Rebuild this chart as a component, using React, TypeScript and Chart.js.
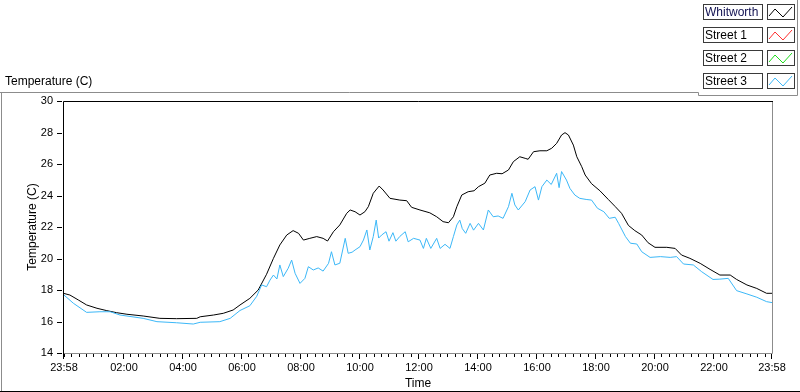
import React, { useEffect, useRef } from 'react';
import { Chart, registerables } from 'chart.js';

Chart.register(...registerables);

const chartTitle = 'Temperature (C)';
const yAxisTitle = 'Temperature (C)';
const xAxisTitle = 'Time';

const seriesNames = ['Whitworth', 'Street 1', 'Street 2', 'Street 3'];
const seriesColors = ['#000000', '#ff3030', '#1edc1e', '#3cb8f8'];
const legendTextColors = ['#101050', '#000000', '#000000', '#000000'];

// minutes since 23:58
const whitworthMinutes = [0, 12, 29, 46, 67, 87, 107, 128, 161, 195, 229, 270, 277, 304, 324, 344, 358, 378, 395, 412, 426, 439, 453, 466, 477, 487, 500, 514, 527, 536, 548, 561, 575, 582, 592, 602, 612, 619, 629, 641, 649, 663, 683, 697, 707, 724, 744, 758, 771, 782, 792, 799, 809, 822, 834, 843, 856, 866, 880, 891, 904, 914, 927, 938, 944, 955, 968, 982, 992, 1002, 1012, 1019, 1026, 1036, 1043, 1053, 1060, 1073, 1090, 1107, 1121, 1134, 1148, 1161, 1175, 1188, 1202, 1226, 1243, 1256, 1273, 1294, 1314, 1334, 1355, 1368, 1389, 1409, 1429, 1440];
const whitworthTemps = [17.78, 17.68, 17.37, 17.05, 16.84, 16.69, 16.56, 16.46, 16.35, 16.2, 16.18, 16.2, 16.3, 16.41, 16.52, 16.73, 17.05, 17.47, 18.0, 19.0, 20.01, 20.86, 21.49, 21.77, 21.6, 21.17, 21.28, 21.39, 21.28, 21.11, 21.7, 22.13, 22.87, 23.08, 22.97, 22.76, 22.97, 23.29, 24.14, 24.6, 24.35, 23.82, 23.71, 23.67, 23.25, 23.08, 22.9, 22.65, 22.34, 22.27, 22.65, 23.29, 24.03, 24.24, 24.3, 24.56, 24.78, 25.3, 25.41, 25.38, 25.62, 26.15, 26.46, 26.36, 26.3, 26.78, 26.84, 26.84, 27.0, 27.31, 27.84, 27.99, 27.84, 27.2, 26.46, 25.83, 25.3, 24.75, 24.3, 23.75, 23.3, 22.87, 22.1, 21.77, 21.49, 21.0, 20.71, 20.71, 20.64, 20.22, 20.01, 19.69, 19.31, 18.95, 18.95, 18.67, 18.32, 18.1, 17.79, 17.79];

const street1Minutes: number[] = [];
const street1Temps: number[] = [];
const street2Minutes: number[] = [];
const street2Temps: number[] = [];

const street3Minutes = [0, 19, 46, 73, 94, 114, 161, 189, 229, 263, 277, 317, 338, 358, 378, 392, 402, 412, 419, 426, 433, 439, 446, 456, 463, 470, 480, 490, 497, 507, 517, 527, 538, 544, 551, 561, 572, 578, 586, 592, 602, 609, 616, 622, 629, 635, 640, 646, 655, 661, 669, 675, 683, 694, 700, 711, 724, 731, 737, 746, 758, 765, 775, 785, 792, 799, 805, 810, 817, 826, 833, 843, 853, 863, 873, 883, 893, 904, 911, 917, 924, 938, 948, 958, 965, 972, 982, 991, 1002, 1007, 1012, 1022, 1029, 1039, 1049, 1062, 1073, 1085, 1098, 1109, 1121, 1128, 1142, 1152, 1165, 1175, 1192, 1213, 1233, 1246, 1260, 1280, 1297, 1320, 1334, 1351, 1368, 1389, 1409, 1429, 1440];
const street3Temps = [17.68, 17.16, 16.58, 16.62, 16.62, 16.41, 16.2, 15.99, 15.92, 15.84, 15.95, 15.99, 16.2, 16.7, 17.0, 17.6, 18.32, 18.21, 18.63, 18.95, 18.7, 19.59, 18.85, 19.38, 19.9, 19.06, 18.42, 18.74, 19.48, 19.27, 19.4, 19.2, 19.69, 20.43, 19.59, 19.7, 21.28, 20.33, 20.4, 20.54, 20.75, 21.17, 21.81, 20.54, 21.39, 22.44, 21.3, 21.49, 21.7, 21.1, 21.64, 21.1, 21.4, 21.7, 21.06, 21.28, 21.17, 20.64, 21.28, 20.64, 21.28, 20.64, 20.9, 20.64, 21.39, 22.13, 22.44, 21.9, 21.6, 22.23, 21.8, 22.23, 21.81, 23.08, 22.65, 22.7, 22.55, 23.29, 24.14, 23.4, 23.08, 23.61, 24.35, 24.56, 23.71, 24.56, 24.98, 24.7, 25.41, 24.5, 25.52, 24.98, 24.45, 24.03, 23.82, 23.75, 23.71, 23.19, 22.97, 22.55, 22.62, 22.23, 21.39, 20.97, 20.92, 20.43, 20.07, 20.12, 20.07, 20.12, 19.65, 19.59, 19.16, 18.67, 18.69, 18.74, 17.96, 17.75, 17.54, 17.26, 17.2];

const tickMinutes = [0, 122, 242, 362, 482, 602, 722, 842, 962, 1082, 1202, 1322, 1440];
const tickLabels = ['23:58', '02:00', '04:00', '06:00', '08:00', '10:00', '12:00', '14:00', '16:00', '18:00', '20:00', '22:00', '23:58'];
const minorTickStart = 2; // 00:00
const minorTickStep = 15;
const xMin = 0;
const xMax = 1440;
const yMin = 14;
const yMax = 30;
const yStep = 2;

const FONT = '"Liberation Sans", Arial, sans-serif';

const toPoints = (xs: number[], ys: number[]) => xs.map((x, i) => ({ x, y: ys[i] }));

const framePlugin = {
  id: 'lvFrame',
  beforeDraw(chart: any) {
    const ctx = chart.ctx as CanvasRenderingContext2D;
    const { width, height } = chart;
    ctx.save();
    ctx.fillStyle = '#ffffff';
    ctx.fillRect(0, 0, width, height);
    ctx.lineWidth = 1;
    ctx.strokeStyle = '#8c8c8c';
    ctx.beginPath();
    ctx.moveTo(0, 92.5);
    ctx.lineTo(698.5, 92.5);
    ctx.lineTo(698.5, 95.5);
    ctx.lineTo(797.5, 95.5);
    ctx.lineTo(797.5, 0);
    ctx.moveTo(1.5, 92.5);
    ctx.lineTo(1.5, 391);
    ctx.stroke();
    ctx.strokeStyle = '#000000';
    ctx.beginPath();
    ctx.moveTo(0, 391.5);
    ctx.lineTo(width, 391.5);
    ctx.stroke();
    ctx.fillStyle = '#000000';
    ctx.font = '12px ' + FONT;
    ctx.textAlign = 'left';
    ctx.textBaseline = 'middle';
    ctx.fillText(chartTitle, 5, 82);
    ctx.restore();
  },
  afterDatasetsDraw(chart: any) {
    const ctx = chart.ctx as CanvasRenderingContext2D;
    const { left, top, right, bottom } = chart.chartArea;
    const xs = chart.scales.x;
    const ys = chart.scales.y;
    ctx.save();
    ctx.lineWidth = 1;
    // plot frame
    ctx.strokeStyle = '#8c8c8c';
    ctx.beginPath();
    ctx.moveTo(left, bottom + 0.5);
    ctx.lineTo(right + 0.5, bottom + 0.5);
    ctx.lineTo(right + 0.5, top);
    ctx.stroke();
    ctx.strokeStyle = '#000000';
    ctx.beginPath();
    ctx.moveTo(left - 0.5, bottom + 1);
    ctx.lineTo(left - 0.5, top + 0.5);
    ctx.lineTo(right + 1, top + 0.5);
    ctx.stroke();
    // ticks
    ctx.fillStyle = '#000000';
    for (let v = yMin; v <= yMax; v += yStep) {
      const py = Math.round(ys.getPixelForValue(v));
      ctx.fillRect(left - 7, py, 5, 1);
    }
    for (let m = minorTickStart; m <= xMax; m += minorTickStep) {
      const px = Math.round(xs.getPixelForValue(m));
      ctx.fillRect(px - 1, bottom + 1, 1, 3);
    }
    tickMinutes.forEach((m) => {
      const px = Math.round(xs.getPixelForValue(m));
      ctx.fillRect(px - 1, bottom + 1, 1, 5);
    });
    // legend
    seriesNames.forEach((name, i) => {
      const t = 4 + i * 23;
      ctx.fillStyle = '#ffffff';
      ctx.fillRect(703, t, 60, 16);
      ctx.fillRect(767, t, 28, 16);
      ctx.strokeStyle = '#3a3a3a';
      ctx.strokeRect(703.5, t + 0.5, 59, 15);
      ctx.strokeRect(767.5, t + 0.5, 27, 15);
      ctx.fillStyle = legendTextColors[i];
      ctx.font = '12px ' + FONT;
      ctx.textAlign = 'left';
      ctx.textBaseline = 'middle';
      ctx.fillText(name, 705, t + 8.5);
      ctx.strokeStyle = seriesColors[i];
      ctx.beginPath();
      ctx.moveTo(769, t + 12);
      ctx.lineTo(775, t + 5);
      ctx.lineTo(783, t + 13);
      ctx.lineTo(792, t + 3);
      ctx.stroke();
    });
    ctx.restore();
  },
};

export default function App() {
  const canvasRef = useRef<HTMLCanvasElement | null>(null);

  useEffect(() => {
    if (!canvasRef.current) return;
    const datasets = [
      { label: seriesNames[0], data: toPoints(whitworthMinutes, whitworthTemps), borderColor: seriesColors[0], order: 4 },
      { label: seriesNames[1], data: toPoints(street1Minutes, street1Temps), borderColor: seriesColors[1], order: 3 },
      { label: seriesNames[2], data: toPoints(street2Minutes, street2Temps), borderColor: seriesColors[2], order: 2 },
      { label: seriesNames[3], data: toPoints(street3Minutes, street3Temps), borderColor: seriesColors[3], order: 1 },
    ].map((d) => ({ ...d, borderWidth: 1, pointRadius: 0, tension: 0, fill: false }));

    const chart = new Chart(canvasRef.current, {
      type: 'line',
      data: { datasets },
      plugins: [framePlugin],
      options: {
        animation: false,
        responsive: false,
        devicePixelRatio: 1,
        layout: { padding: { top: 101, right: 28, bottom: 0, left: 0 } },
        plugins: { legend: { display: false }, title: { display: false }, tooltip: { enabled: false } },
        scales: {
          x: {
            type: 'linear',
            min: xMin,
            max: xMax,
            afterBuildTicks: (s: any) => {
              s.ticks = tickMinutes.map((v) => ({ value: v }));
            },
            afterFit: (s: any) => {
              s.height = 39;
            },
            ticks: {
              callback: (v: any) => tickLabels[tickMinutes.indexOf(Number(v))],
              font: { family: FONT, size: 11 },
              color: '#000000',
              padding: 8,
              maxRotation: 0,
              autoSkip: false,
            },
            grid: { display: false, drawTicks: false },
            border: { display: false },
            title: { display: true, text: xAxisTitle, color: '#000000', font: { family: FONT, size: 12 }, padding: { top: 0, bottom: 1 } },
          },
          y: {
            min: yMin,
            max: yMax,
            afterFit: (s: any) => {
              s.width = 64;
            },
            ticks: { stepSize: yStep, font: { family: FONT, size: 11 }, color: '#000000', padding: 11 },
            grid: { display: false, drawTicks: false },
            border: { display: false },
            title: { display: true, text: yAxisTitle, color: '#000000', font: { family: FONT, size: 12 }, padding: { top: 25, bottom: 0 } },
          },
        },
      } as any,
    });
    return () => chart.destroy();
  }, []);

  return (
    <div style={{ position: 'absolute', left: 0, top: 0, width: 800, height: 392, background: '#fff' }}>
      <canvas ref={canvasRef} width={800} height={392} style={{ display: 'block', width: 800, height: 392 }} />
    </div>
  );
}
